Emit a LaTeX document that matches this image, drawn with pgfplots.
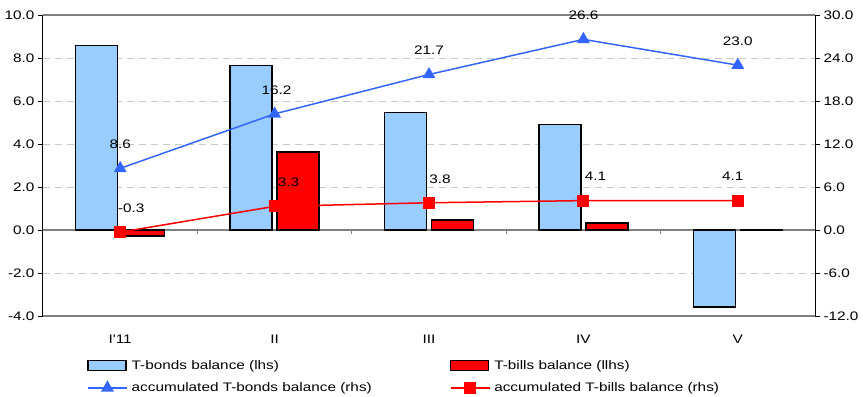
\documentclass[border=0pt]{standalone}
\usepackage{fontspec}
\setmainfont{Liberation Sans}[FakeStretch=1.24, Ligatures=TeXOff]
\usepackage{pgfplots}
\usepackage{pgfplotstable}
\pgfplotsset{compat=1.18}

\definecolor{barblue}{RGB}{153,204,255}
\definecolor{linblue}{RGB}{51,102,255}
\definecolor{gridgray}{RGB}{200,200,200}
\definecolor{axgray}{RGB}{128,128,128}

% monthly balances (left axis)
\pgfplotstableread{
x  bonds  bills
0  8.58   -0.28
1  7.64    3.62
2  5.46    0.47
3  4.92    0.33
4  -3.58   0.03
}\balances

% accumulated balances (right axis), dx = label offset
\pgfplotstableread{
x  cum   dx
0  8.6   0
1  16.2  2
2  21.7  0
3  26.6  0
4  23.0  0
}\cumbonds

\pgfplotstableread{
x  cum   dx
0  -0.3  11
1  3.3   14
2  3.8   11
3  4.1   12
4  4.1   -5
}\cumbills

\begin{document}
\begin{tikzpicture}[font=\fontsize{12.4}{14}\selectfont]
\pgfplotsset{
  base/.style={
    scale only axis, width=772bp, height=301bp,
    xmin=-0.5, xmax=4.5,
    tick align=outside, major tick length=5bp,
    /pgf/number format/.cd, fixed, zerofill, precision=1, assume math mode=true,
    /pgfplots/.cd,
  },
}
\begin{axis}[base,
  ymin=-4, ymax=10, ytick={-4,-2,...,10},
  axis x line*=bottom, axis y line*=left,
  x axis line style={draw=axgray, line width=1.2bp},
  y axis line style={draw=black, line width=1bp},
  y tick style={black, line width=0.8bp},
  xtick={0,1,2,3,4}, xticklabels={I'11,II,III,IV,V},
  x tick style={draw=none},
  xticklabel style={yshift=-10bp},
  ymajorgrids, grid style={gridgray, line width=0.8bp, dash pattern=on 7bp off 5bp},
  ybar, bar width=42bp,
  clip=false,
]
\coordinate (pbl) at (rel axis cs:0,0);
\coordinate (ptr) at (rel axis cs:1,1);
\draw[axgray, line width=1.2bp] (rel axis cs:0,1) -- (rel axis cs:1,1);
\draw[axgray, line width=1.2bp] (axis cs:-0.5,0) -- (axis cs:4.5,0);
% category separators on the zero line
\draw[axgray, line width=0.9bp] (axis cs:0.5,0) -- ++(0pt,-4bp);
\draw[axgray, line width=0.9bp] (axis cs:1.5,0) -- ++(0pt,-4bp);
\draw[axgray, line width=0.9bp] (axis cs:2.5,0) -- ++(0pt,-4bp);
\draw[axgray, line width=0.9bp] (axis cs:3.5,0) -- ++(0pt,-4bp);
\addplot[bar shift=-23.5bp, fill=barblue, draw=black, line width=1.4bp]
  table[x=x, y=bonds] {\balances};
\addplot[bar shift=23.5bp, fill=red, draw=black, line width=1.4bp]
  table[x=x, y=bills] {\balances};
\end{axis}

\begin{axis}[base,
  ymin=-12, ymax=30, ytick={-12,-6,...,30},
  axis x line=none, axis y line*=right,
  y axis line style={draw=black, line width=1bp},
  y tick style={black, line width=0.8bp},
  clip=false,
  legend columns=2,
  legend cell align=left,
  legend style={at={(0,0)}, anchor=north west, xshift=44bp, yshift=-42bp,
    draw=none, fill=none, inner sep=0pt, row sep=8bp,
    font=\fontsize{12.4}{14}\selectfont,
    /tikz/every odd column/.append style={column sep=2bp},
    /tikz/every even column/.append style={column sep=76bp}},
  legend image code/.code={
    \draw[#1, mark repeat=2, mark phase=2]
      plot coordinates {(0bp,0bp) (19.5bp,0bp) (39bp,0bp)};},
  nodes near coords={\pgfmathprintnumber[fixed,zerofill,precision=1,assume math mode=true]{\pgfplotspointmeta}},
  point meta=explicit,
  visualization depends on={\thisrow{dx} \as \dx},
  every node near coord/.append style={anchor=center, xshift=\dx bp, yshift=24bp,
    font=\fontsize{12.4}{14}\selectfont, text=black},
]
\addlegendimage{legend image code/.code={
  \draw[fill=barblue, draw=black, line width=1.4bp] (0bp,-5bp) rectangle (38bp,5bp);}}
\addlegendentry{T-bonds balance (lhs)}
\addlegendimage{legend image code/.code={
  \draw[fill=red, draw=black, line width=1.4bp] (0bp,-5bp) rectangle (38bp,5bp);}}
\addlegendentry{T-bills balance (llhs)}
\addplot[linblue, line width=1.5bp, mark=triangle*, mark size=6bp,
  mark options={solid, fill=linblue, draw=linblue}]
  table[x=x, y=cum, meta=cum] {\cumbonds};
\addlegendentry{accumulated T-bonds balance (rhs)}
\addplot[red, line width=1.5bp, mark=square*, mark size=5.3bp,
  mark options={solid, fill=red, draw=red}]
  table[x=x, y=cum, meta=cum] {\cumbills};
\addlegendentry{accumulated T-bills balance (rhs)}
\end{axis}

\pgfresetboundingbox
\path[use as bounding box] ([xshift=-43bp, yshift=-81bp]pbl) rectangle ([xshift=48bp, yshift=15bp]ptr);
\end{tikzpicture}
\end{document}
